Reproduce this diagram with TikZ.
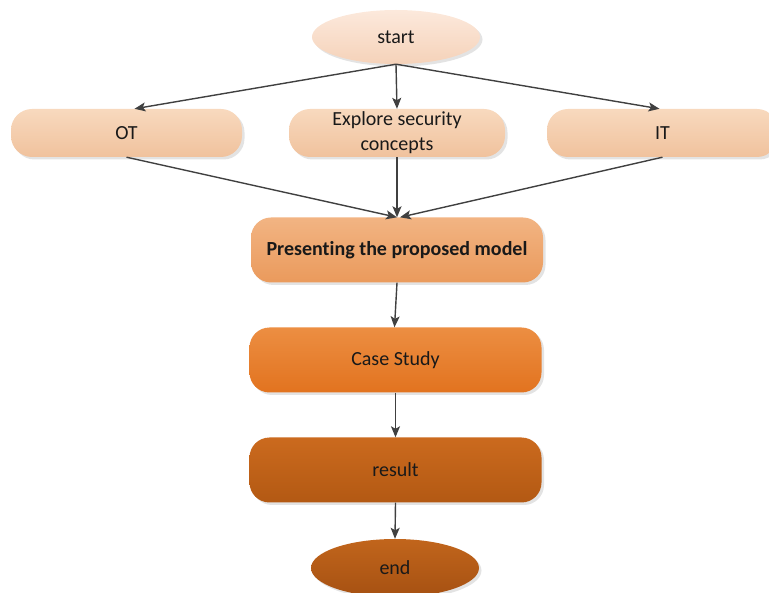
\documentclass[tikz,border=0pt]{standalone}
\usepackage{fontspec}
\setmainfont{Carlito}[Ligatures={NoCommon,NoContextual}]
\usetikzlibrary{arrows.meta,shadows,shapes.geometric}

\definecolor{arrowgray}{HTML}{404040}
\definecolor{startTop}{HTML}{FCE9DC}
\definecolor{startBot}{HTML}{F5D2B9}
\definecolor{lightTop}{HTML}{F8D9BE}
\definecolor{lightBot}{HTML}{F0C29D}
\definecolor{midTop}{HTML}{F2B483}
\definecolor{midBot}{HTML}{EA9A5C}
\definecolor{caseTop}{HTML}{EC8E42}
\definecolor{caseBot}{HTML}{E2731F}
\definecolor{resTop}{HTML}{CB6A1E}
\definecolor{resBot}{HTML}{B35913}
\definecolor{endTop}{HTML}{C1651C}
\definecolor{endBot}{HTML}{A65112}

\tikzset{
  txt/.style={font=\fontsize{20}{25}\selectfont, text=black!90, align=center, inner sep=0pt},
  softshadow/.style={drop shadow={opacity=0.18, shadow xshift=2.5pt, shadow yshift=-2.5pt, fill=black!60}},
  oval/.style={txt, ellipse, minimum width=168pt, minimum height=54pt, softshadow},
  pill/.style={txt, rectangle, rounded corners=21pt, minimum width=231pt, minimum height=48pt, softshadow},
  stage/.style={txt, rectangle, rounded corners=20pt, minimum width=292pt, minimum height=65pt, softshadow},
  flow/.style={draw=arrowgray, line width=1.4pt, -{Stealth[length=11pt,width=9pt,inset=2.5pt]}},
}

\begin{document}
\begin{tikzpicture}[x=1pt,y=-1pt]
\useasboundingbox (0,0) rectangle (769,593);

\node[oval, top color=startTop, bottom color=startBot] (start) at (396,37) {start};

\node[pill, top color=lightTop, bottom color=lightBot] (ot) at (126.5,133) {OT};
\node[pill, top color=lightTop, bottom color=lightBot, minimum width=216pt] (explore) at (397,133) {Explore security\\concepts};
\node[pill, top color=lightTop, bottom color=lightBot] (it) at (662.5,133) {IT};

\node[stage, top color=midTop, bottom color=midBot] (model) at (397,250) {\bfseries Presenting the proposed model};
\node[stage, top color=caseTop, bottom color=caseBot] (case) at (395.5,360) {Case Study};
\node[stage, top color=resTop, bottom color=resBot] (result) at (395.5,470) {result};

\node[oval, top color=endTop, bottom color=endBot, minimum height=58pt] (end) at (395,568) {end};

\draw[flow] (start.south) -- ([xshift=8pt]ot.north);
\draw[flow] (start.south) -- (explore.north);
\draw[flow] (start.south) -- ([xshift=-3pt]it.north);

\draw[flow] (ot.south) -- (model.north);
\draw[flow] (explore.south) -- (model.north);
\draw[flow] (it.south) -- ([xshift=3pt]model.north);

\draw[flow] (model.south) -- ([xshift=-1pt]case.north);
\draw[flow] (case.south) -- (result.north);
\draw[flow] (result.south) -- (end.north);
\end{tikzpicture}
\end{document}
